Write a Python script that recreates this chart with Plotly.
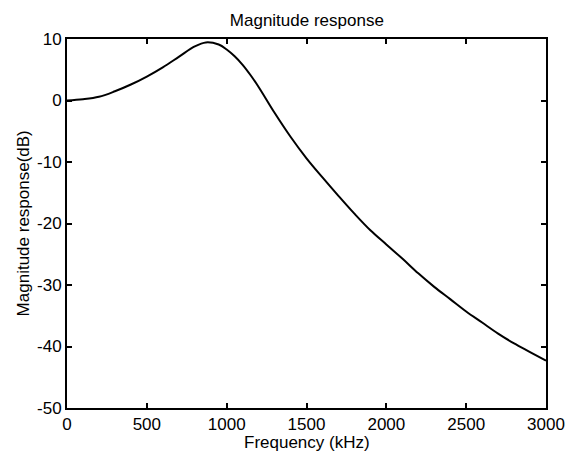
import plotly.graph_objects as go

# frequency (kHz) and magnitude (dB)
freq_khz = [0, 100, 200, 300, 400, 500, 600, 700, 800, 870, 950, 1000, 1050, 1100, 1150,
            1200, 1300, 1400, 1500, 1600, 1700, 1800, 1900, 2000, 2100, 2200, 2300,
            2400, 2500, 2600, 2700, 2800, 2900, 3000]
mag_db = [0.0, 0.2, 0.6, 1.5, 2.6, 3.9, 5.4, 7.1, 8.8, 9.45, 9.1, 8.3, 7.2, 5.8, 4.1,
          2.2, -2.0, -5.9, -9.4, -12.5, -15.5, -18.4, -21.1, -23.4, -25.7, -28.1, -30.3,
          -32.3, -34.3, -36.1, -37.9, -39.5, -40.9, -42.3]

x_ticks = [0, 500, 1000, 1500, 2000, 2500, 3000]
y_ticks = [-50, -40, -30, -20, -10, 0, 10]
y_tick_labels = ['-50', '-40', '-30', '-20', '-10', '0', '10']

font = dict(family='Liberation Sans, Arial', size=17, color='black')

fig = go.Figure()
fig.add_trace(go.Scatter(x=freq_khz, y=mag_db, mode='lines', line_shape='spline',
                         line=dict(color='black', width=2), showlegend=False))

axis_style = dict(showline=True, linecolor='black', linewidth=2, mirror='ticks',
                  ticks='inside', ticklen=5, tickwidth=1.5, tickcolor='black',
                  showgrid=False, zeroline=False, automargin=False, tickfont=font)

# the page body adds an 8px margin at top/left, so the figure starts at (8, 8)
fig.update_layout(
    width=566, height=446,
    margin=dict(l=59, r=28, t=31, b=46),
    paper_bgcolor='white', plot_bgcolor='white',
    title=dict(text='Magnitude response', x=0.528, xanchor='center', y=0.972, yanchor='middle',
               font=font),
    xaxis=dict(range=[0, 3000], tickvals=x_ticks, **axis_style),
    yaxis=dict(range=[-50, 10], tickvals=y_ticks, ticktext=y_tick_labels, **axis_style),
)

# axis titles placed as annotations so they sit where the reference has them
fig.add_annotation(text='Frequency (kHz)', xref='paper', yref='paper', x=0.502, y=-0.094,
                   xanchor='center', yanchor='middle', showarrow=False, font=font)
fig.add_annotation(text='Magnitude response(dB)', xref='paper', yref='paper', x=-0.09, y=0.5,
                   xanchor='center', yanchor='middle', textangle=-90, showarrow=False, font=font)

fig.write_html("out.html")
